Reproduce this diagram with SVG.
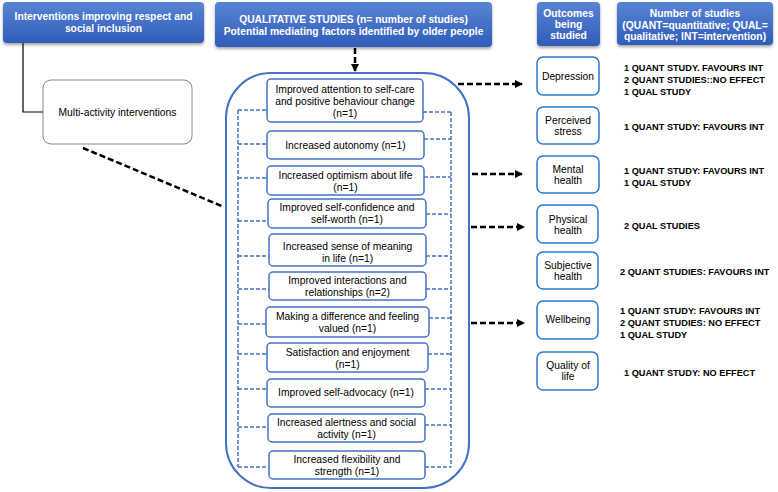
<svg xmlns="http://www.w3.org/2000/svg" width="778" height="492" viewBox="0 0 778 492">
<defs>
<linearGradient id="hg" x1="0" y1="0" x2="0" y2="1">
<stop offset="0" stop-color="#5a84d4"/>
<stop offset="1" stop-color="#2f5cb9"/>
</linearGradient>
<filter id="sh" x="-10%" y="-20%" width="120%" height="160%">
<feDropShadow dx="0" dy="2" stdDeviation="1.5" flood-color="#000" flood-opacity="0.35"/>
</filter>
<marker id="ah" markerWidth="10" markerHeight="10" refX="7" refY="4" orient="auto" markerUnits="userSpaceOnUse">
<path d="M0,0 L8,4 L0,8 Z" fill="#000"/>
</marker>
</defs>
<style>
.hdr{fill:url(#hg);filter:url(#sh)}
.ht{font-family:"Liberation Sans",Arial,sans-serif;font-weight:bold;font-size:10.3px;fill:#fff;text-anchor:middle}
.t{font-family:"Liberation Sans",Arial,sans-serif;font-size:10.3px;fill:#000;text-anchor:middle}
.s{font-family:"Liberation Sans",Arial,sans-serif;font-weight:bold;font-size:9.2px;fill:#000}
.ib{fill:#fff;stroke:#4472c4;stroke-width:1.5}
.ob{fill:#fff;stroke:#2a7bd0;stroke-width:1.5}
.bd{fill:none;stroke:#4472c4;stroke-width:1.5;stroke-dasharray:4 2}
.ka{fill:none;stroke:#000;stroke-width:2.5;stroke-dasharray:6 3;marker-end:url(#ah)}
</style>

<g id="h1"><rect class="hdr" x="3" y="2" width="201" height="41" rx="4"/><text class="ht" x="103.5" y="20">Interventions improving respect and</text><text class="ht" x="103.5" y="32">social inclusion</text></g>
<g id="h2"><rect class="hdr" x="215" y="2" width="277" height="45" rx="4"/><text class="ht" x="353.5" y="23">QUALITATIVE STUDIES (n= number of studies)</text><text class="ht" x="353.5" y="35">Potential mediating factors identified by older people</text></g>
<g id="h3"><rect class="hdr" x="537" y="2" width="63" height="44" rx="4"/><text class="ht" x="568.5" y="17">Outcomes</text><text class="ht" x="568.5" y="28">being</text><text class="ht" x="568.5" y="39">studied</text></g>
<g id="h4"><rect class="hdr" x="617" y="2" width="156" height="43" rx="4"/><text class="ht" x="695" y="17">Number of studies</text><text class="ht" x="695" y="29">(QUANT=quantitative; QUAL=</text><text class="ht" x="695" y="40">qualitative; INT=intervention)</text></g>

<g id="multi"><rect x="43" y="80" width="149" height="64" rx="8" fill="#fff" stroke="#888" stroke-width="1"/><text class="t" x="117.5" y="116" font-size="10px">Multi-activity interventions</text></g>

<g id="container"><rect x="226" y="73" width="243" height="415" rx="45" fill="none" stroke="#4472c4" stroke-width="2"/></g>

<g id="connectors">
<polyline points="23,43 23,112 43,112" fill="none" stroke="#000" stroke-width="1.2"/>
<line x1="83" y1="148" x2="224" y2="207" stroke="#000" stroke-width="2.5" stroke-dasharray="6 3"/>
<line class="ka" x1="355" y1="48" x2="355" y2="71"/>
<line class="ka" x1="458" y1="84" x2="522" y2="84"/>
<line class="ka" x1="472" y1="174" x2="522" y2="174"/>
<line class="ka" x1="471" y1="227" x2="524" y2="227"/>
<line class="ka" x1="471" y1="323" x2="524" y2="323"/>
<path class="bd" d="M238,110 V467 M451,112 V467 M238,110 H267 M423,112 H451 M238,144 H267 M424,139 H451 M238,178 H267 M424,177 H451 M238,221 H268 M426,214 H451 M238,256 H269 M426,256 H451 M238,289 H269 M426,289 H451 M238,324 H266 M429,318 H451 M238,354 H267 M428,354 H451 M238,389 H267 M425,389 H451 M238,427 H268 M425,425 H451 M238,467 H269 M425,467 H451"/>
</g>

<g id="f1"><rect class="ib" x="267" y="79" width="156" height="43" rx="4"/><text class="t" x="345" y="93">Improved attention to self-care</text><text class="t" x="345" y="105">and positive behaviour change</text><text class="t" x="345" y="117">(n=1)</text></g>
<g id="f2"><rect class="ib" x="267" y="131" width="157" height="28" rx="4"/><text class="t" x="345.5" y="149">Increased autonomy (n=1)</text></g>
<g id="f3"><rect class="ib" x="267" y="166" width="157" height="29" rx="4"/><text class="t" x="345.5" y="179">Increased optimism about life</text><text class="t" x="345.5" y="191">(n=1)</text></g>
<g id="f4"><rect class="ib" x="268" y="199" width="158" height="29" rx="4"/><text class="t" x="347" y="211">Improved self-confidence and</text><text class="t" x="347" y="223">self-worth (n=1)</text></g>
<g id="f5"><rect class="ib" x="269" y="234" width="157" height="32" rx="4"/><text class="t" x="347.5" y="250">Increased sense of meaning</text><text class="t" x="347.5" y="262">in life (n=1)</text></g>
<g id="f6"><rect class="ib" x="269" y="272" width="157" height="28" rx="4"/><text class="t" x="347.5" y="284">Improved interactions and</text><text class="t" x="347.5" y="296">relationships (n=2)</text></g>
<g id="f7"><rect class="ib" x="266" y="307" width="163" height="30" rx="4"/><text class="t" x="347.5" y="320">Making a difference and feeling</text><text class="t" x="347.5" y="332">valued (n=1)</text></g>
<g id="f8"><rect class="ib" x="267" y="343" width="161" height="29" rx="4"/><text class="t" x="347.5" y="356">Satisfaction and enjoyment</text><text class="t" x="347.5" y="368">(n=1)</text></g>
<g id="f9"><rect class="ib" x="267" y="379" width="158" height="28" rx="4"/><text class="t" x="346" y="396">Improved self-advocacy (n=1)</text></g>
<g id="f10"><rect class="ib" x="268" y="414" width="157" height="28" rx="4"/><text class="t" x="346.5" y="426">Increased alertness and social</text><text class="t" x="346.5" y="438">activity (n=1)</text></g>
<g id="f11"><rect class="ib" x="269" y="451" width="156" height="28" rx="4"/><text class="t" x="347" y="463">Increased flexibility and</text><text class="t" x="347" y="475">strength (n=1)</text></g>

<g id="o1"><rect class="ob" x="537" y="57" width="62" height="38" rx="6"/><text class="t" x="568" y="80">Depression</text></g>
<g id="o2"><rect class="ob" x="537" y="107" width="62" height="37" rx="6"/><text class="t" x="568" y="124">Perceived</text><text class="t" x="568" y="135">stress</text></g>
<g id="o3"><rect class="ob" x="537" y="156" width="62" height="37" rx="6"/><text class="t" x="568" y="173">Mental</text><text class="t" x="568" y="184">health</text></g>
<g id="o4"><rect class="ob" x="537" y="205" width="61" height="38" rx="6"/><text class="t" x="568" y="223">Physical</text><text class="t" x="568" y="234">health</text></g>
<g id="o5"><rect class="ob" x="537" y="252" width="61" height="37" rx="6"/><text class="t" x="568" y="269">Subjective</text><text class="t" x="568" y="280">health</text></g>
<g id="o6"><rect class="ob" x="537" y="301" width="61" height="38" rx="6"/><text class="t" x="568" y="323">Wellbeing</text></g>
<g id="o7"><rect class="ob" x="537" y="352" width="61" height="38" rx="6"/><text class="t" x="568" y="369">Quality of</text><text class="t" x="568" y="380">life</text></g>

<g id="studies">
<text class="s" x="624" y="71">1 QUANT STUDY. FAVOURS INT</text>
<text class="s" x="624" y="83">2 QUANT STUDIES::NO EFFECT</text>
<text class="s" x="624" y="95">1 QUAL STUDY</text>
<text class="s" x="624" y="130">1 QUANT STUDY: FAVOURS INT</text>
<text class="s" x="624" y="174">1 QUANT STUDY: FAVOURS INT</text>
<text class="s" x="624" y="186">1 QUAL STUDY</text>
<text class="s" x="624" y="229">2 QUAL STUDIES</text>
<text class="s" x="620" y="275">2 QUANT STUDIES: FAVOURS INT</text>
<text class="s" x="620" y="314">1 QUANT STUDY: FAVOURS INT</text>
<text class="s" x="620" y="326">2 QUANT STUDIES: NO EFFECT</text>
<text class="s" x="620" y="338">1 QUAL STUDY</text>
<text class="s" x="624" y="376">1 QUANT STUDY: NO EFFECT</text>
</g>
</svg>
